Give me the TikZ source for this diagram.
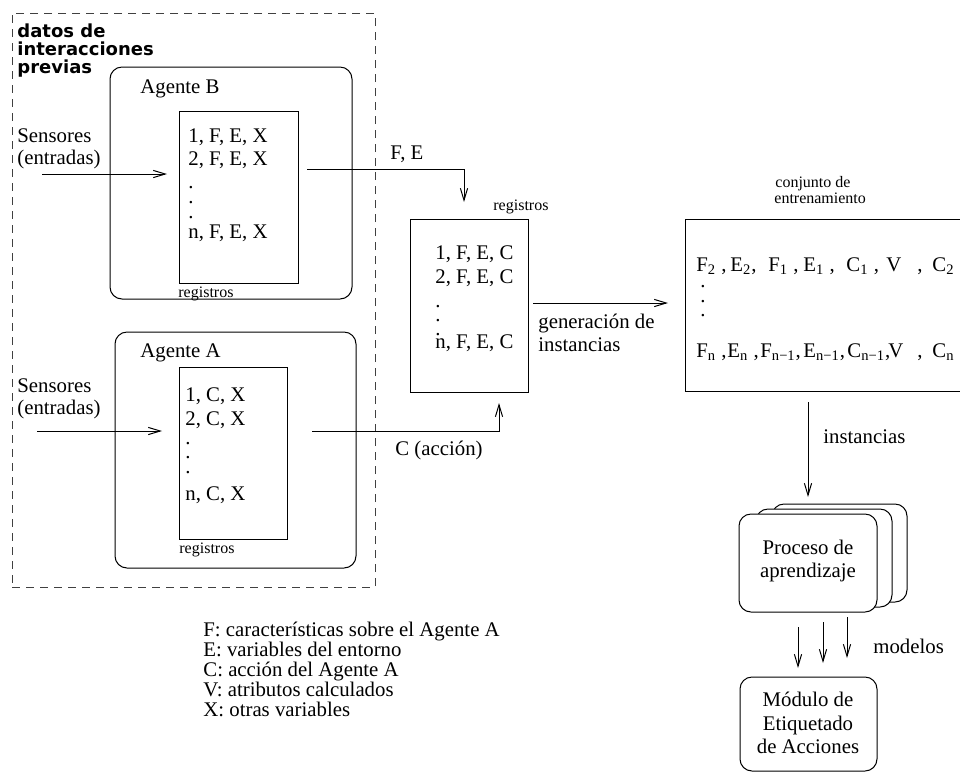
\documentclass[tikz,border=0pt]{standalone}
\usepackage{fontspec}
\setmainfont{Liberation Serif}
\newfontfamily\headsans{DejaVu Sans}
\usetikzlibrary{arrows.meta,fit}

\newcommand\sbs[1]{\textsubscript{#1}}

\tikzset{
  thin line/.style={line width=0.5pt},
  arr/.style={thin line, -{Straight Barb[length=6pt,width=3.6pt]}},
  box/.style={draw, thin line, fill=white, inner sep=0pt, outer sep=0pt},
  rbox/.style={box, rounded corners=6pt},
  txt/.style={anchor=base west, inner sep=0pt, font=\fontsize{10.4}{12}\selectfont},
  ctxt/.style={txt, anchor=base},
  small/.style={anchor=base west, inner sep=0pt, font=\fontsize{8}{9.5}\selectfont},
  head/.style={anchor=base west, inner sep=0pt, font=\headsans\bfseries\fontsize{9}{10}\selectfont},
}

\begin{document}
\begin{tikzpicture}[x=0.5pt,y=-0.5pt]
\clip (0,0) rectangle (960,773);
\fill[white] (0,0) rectangle (960,773);

% ---------- group of stored interaction data ----------
\node[thin line, draw=black!75, dash pattern=on 4pt off 3pt, inner sep=0pt,
      fit={(12,13) (375,587)}] (prev) {};
\node[head] (h1) at (17,37) {datos de};
\node[head] (h2) at (17,55) {interacciones};
\node[head] (h3) at (17,73) {previas};

% ---------- agent B ----------
\node[rbox, fit={(110,67) (352,299)}] (agB) {};
\node[txt] (agBt) at (140,93) {Agente B};
\node[box, fit={(179,111) (298,283)}] (regB) {};
\node[txt] (rb1) at (188,142) {1, F, E, X};
\node[txt] (rb2) at (188,165) {2, F, E, X};
\foreach \i/\y in {1/188,2/203,3/218} \node[txt] (dB\i) at (188,\y) {.};
\node[txt] (rbn) at (188,238) {n, F, E, X};
\node[small] (regBl) at (178,297) {registros};
\node[txt] (sB1) at (17,142) {Sensores};
\node[txt] (sB2) at (17,164) {(entradas)};
\coordinate (sBin) at (42,174);
\coordinate (sBend) at (167,174);
\draw[arr] (sBin) -- (sBend);

% ---------- agent A ----------
\node[rbox, fit={(115,332) (356,568)}] (agA) {};
\node[txt] (agAt) at (140,357) {Agente A};
\node[box, fit={(179,367) (287,539)}] (regA) {};
\node[txt] (ra1) at (185,401) {1, C, X};
\node[txt] (ra2) at (185,425) {2, C, X};
\foreach \i/\y in {1/444,2/458,3/473} \node[txt] (dA\i) at (185,\y) {.};
\node[txt] (ran) at (185,500) {n, C, X};
\node[small] (regAl) at (179,553) {registros};
\node[txt] (sA1) at (17,392) {Sensores};
\node[txt] (sA2) at (17,414) {(entradas)};
\coordinate (sAin) at (37,431);
\coordinate (sAend) at (162,431);
\draw[arr] (sAin) -- (sAend);

% ---------- merged records ----------
\node[box, fit={(410,219) (528,392)}] (mid) {};
\node[small] (midl) at (493,210) {registros};
\node[txt] (rm1) at (435,259) {1, F, E, C};
\node[txt] (rm2) at (435,283) {2, F, E, C};
\foreach \i/\y in {1/307,2/321,3/335} \node[txt] (dM\i) at (435,\y) {.};
\node[txt] (rmn) at (435,348) {n, F, E, C};

\coordinate (feS) at (307,169);
\coordinate (feE) at (464,202);
\draw[arr] (feS) -| (feE);
\node[txt] (fel) at (390,159) {F, E};

\coordinate (cS) at (312,431);
\coordinate (cE) at (499,403);
\draw[arr] (cS) -| (cE);
\node[txt] (cl) at (395,455) {C (acción)};

% ---------- training set ----------
\node[box, fit={(685,219) (985,391)}] (train) {};
\node[small] (tr1) at (775,187) {conjunto de};
\node[small] (tr2) at (774,203) {entrenamiento};

\foreach \i/\x/\t in {1/696/{F\sbs{2} ,}, 2/730/{E\sbs{2},}, 3/768/{F\sbs{1} ,},
                      4/803/{E\sbs{1} ,}, 5/846/{C\sbs{1} ,}, 6/886/{V}, 7/917/{,}, 8/932/{C\sbs{2}}}
  \node[txt] (ta\i) at (\x,271) {\t};
\foreach \i/\y in {1/287,2/302,3/316} \node[txt] (dT\i) at (700,\y) {.};
\foreach \i/\x/\t in {1/696/{F\sbs{n} ,}, 2/727/{E\sbs{n} ,}, 3/760/{F\sbs{n−1},},
                      4/803/{E\sbs{n−1},}, 5/847/{C\sbs{n−1},}, 6/888/{V}, 7/917/{,}, 8/932/{C\sbs{n}}}
  \node[txt] (tn\i) at (\x,357) {\t};

\coordinate (gS) at (533,303);
\coordinate (gE) at (668,303);
\draw[arr] (gS) -- (gE);
\node[txt] (gl1) at (538,328) {generación de};
\node[txt] (gl2) at (538,351) {instancias};

% ---------- learning processes ----------
\node[rbox, fit={(772,504) (907,602)}] (p3) {};
\node[rbox, fit={(756,509) (892,607)}] (p2) {};
\node[rbox, fit={(739,514) (877,612)}] (p1) {};
\node[ctxt] (pl1) at (808,554) {Proceso de};
\node[ctxt] (pl2) at (808,577) {aprendizaje};

\coordinate (iS) at (808,402);
\coordinate (iE) at (808,497);
\draw[arr] (iS) -- (iE);
\node[txt] (il) at (823,443) {instancias};

% ---------- labelling module ----------
\node[rbox, fit={(740,677) (877,771)}] (mod) {};
\node[ctxt] (ml1) at (808,706) {Módulo de};
\node[ctxt] (ml2) at (808,730) {Etiquetado};
\node[ctxt] (ml3) at (808,753) {de Acciones};

\foreach \i/\x/\y in {1/798/627,2/823/622,3/847/617}
  \draw[arr] (\x,\y) coordinate (m\i) -- ++(0,41);
\node[txt] (mdl) at (873,653) {modelos};

% ---------- legend ----------
\node[txt] (lg1) at (203,636) {F: características sobre el Agente A};
\node[txt] (lg2) at (203,656) {E: variables del entorno};
\node[txt] (lg3) at (203,676) {C: acción del Agente A};
\node[txt] (lg4) at (203,696) {V: atributos calculados};
\node[txt] (lg5) at (203,716) {X: otras variables};
\end{tikzpicture}
\end{document}
